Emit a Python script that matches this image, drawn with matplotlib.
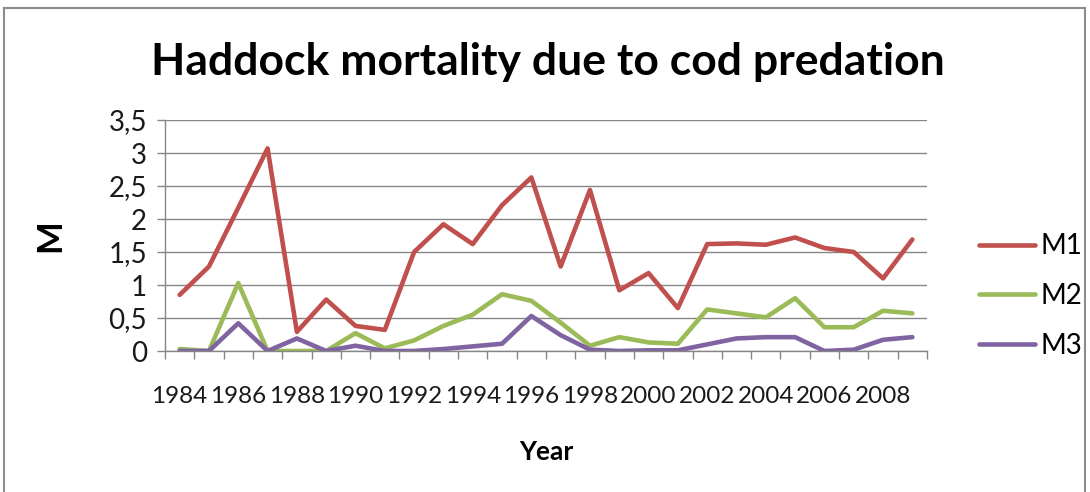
import matplotlib
matplotlib.use('Agg')
import matplotlib.pyplot as plt
from matplotlib.lines import Line2D
from matplotlib.ticker import FixedLocator, NullFormatter, FixedFormatter

plt.rcParams['font.family'] = ['Lato', 'DejaVu Sans']

years = list(range(1984, 2010))
m1 = [0.85, 1.28, 2.17, 3.07, 0.29, 0.78, 0.38, 0.32, 1.50, 1.92, 1.62, 2.21, 2.63,
      1.28, 2.44, 0.92, 1.18, 0.65, 1.62, 1.63, 1.61, 1.72, 1.56, 1.50, 1.10, 1.69]
m2 = [0.03, 0.0, 1.03, 0.0, 0.0, 0.0, 0.27, 0.04, 0.16, 0.38, 0.55, 0.86, 0.76,
      0.43, 0.08, 0.21, 0.13, 0.11, 0.63, 0.57, 0.51, 0.80, 0.36, 0.36, 0.61, 0.57]
m3 = [0.0, 0.0, 0.42, 0.0, 0.19, 0.0, 0.08, 0.0, 0.0, 0.03, 0.07, 0.11, 0.53,
      0.24, 0.02, 0.0, 0.01, 0.01, 0.10, 0.19, 0.21, 0.21, 0.0, 0.02, 0.17, 0.21]
yticks = [0, 0.5, 1, 1.5, 2, 2.5, 3, 3.5]
ytick_labels = ['0', '0,5', '1', '1,5', '2', '2,5', '3', '3,5']

fig = plt.figure(figsize=(10.9, 4.92), dpi=100)
ax = fig.add_axes([165 / 1090, 1 - 351 / 492, (927 - 165) / 1090, (351 - 120) / 492])

x = list(range(len(years)))
ax.plot(x, m1, color='#C0504D', lw=3.3, label='M1', solid_capstyle='round')
ax.plot(x, m2, color='#9BBB59', lw=3.3, label='M2', solid_capstyle='round')
ax.plot(x, m3, color='#8064A2', lw=3.3, label='M3', solid_capstyle='round')

ax.set_xlim(-0.5, len(years) - 0.5)
ax.set_ylim(0, 3.5)

# category boundaries get tick marks, labels every second year
ax.xaxis.set_major_locator(FixedLocator([i - 0.5 for i in range(len(years) + 1)]))
ax.xaxis.set_major_formatter(NullFormatter())
lab_pos = [i for i in x if i % 2 == 0]
ax.xaxis.set_minor_locator(FixedLocator(lab_pos))
ax.xaxis.set_minor_formatter(FixedFormatter([str(years[i]) for i in lab_pos]))
ax.tick_params(axis='x', which='major', direction='out', length=6, width=1, color='#868686')
ax.tick_params(axis='x', which='minor', length=0, pad=25, labelsize=17.5, labelcolor='#1a1a1a')

ax.set_yticks(yticks)
ax.set_yticklabels(ytick_labels)
ax.tick_params(axis='y', direction='out', length=6, width=1, color='#868686',
               labelsize=20, labelcolor='#1a1a1a', pad=7)

ax.grid(axis='y', color='#868686', lw=1)
ax.set_axisbelow(True)
for s in ['top', 'right']:
    ax.spines[s].set_visible(False)
for s in ['left', 'bottom']:
    ax.spines[s].set_color('#868686')
    ax.spines[s].set_linewidth(1)

ax.set_xlabel('Year', fontsize=19, fontweight='bold', labelpad=24)
ax.set_ylabel('M', fontsize=25, fontweight='bold', labelpad=30)

fig.text(548 / 1090, 1 - 62 / 492, 'Haddock mortality due to cod predation',
         ha='center', va='center', fontsize=32, fontweight='bold')

leg = ax.legend(loc='center left', bbox_to_anchor=(960 / 1090, 1 - 296 / 492),
                bbox_transform=fig.transFigure, frameon=False, fontsize=20,
                handlelength=2.0, labelspacing=0.85, handletextpad=0.2, borderpad=0.2)

# outer chart frame
fc = '#8c8c8c'
fig.add_artist(Line2D([4 / 1090, 4 / 1090], [0, 1 - 8 / 492], color=fc, lw=1.5))
fig.add_artist(Line2D([4 / 1090, 1085 / 1090], [1 - 8 / 492, 1 - 8 / 492], color=fc, lw=1.5))
fig.add_artist(Line2D([1085 / 1090, 1085 / 1090], [0, 1 - 8 / 492], color=fc, lw=1.5))

fig.savefig('out.png', dpi=100)
